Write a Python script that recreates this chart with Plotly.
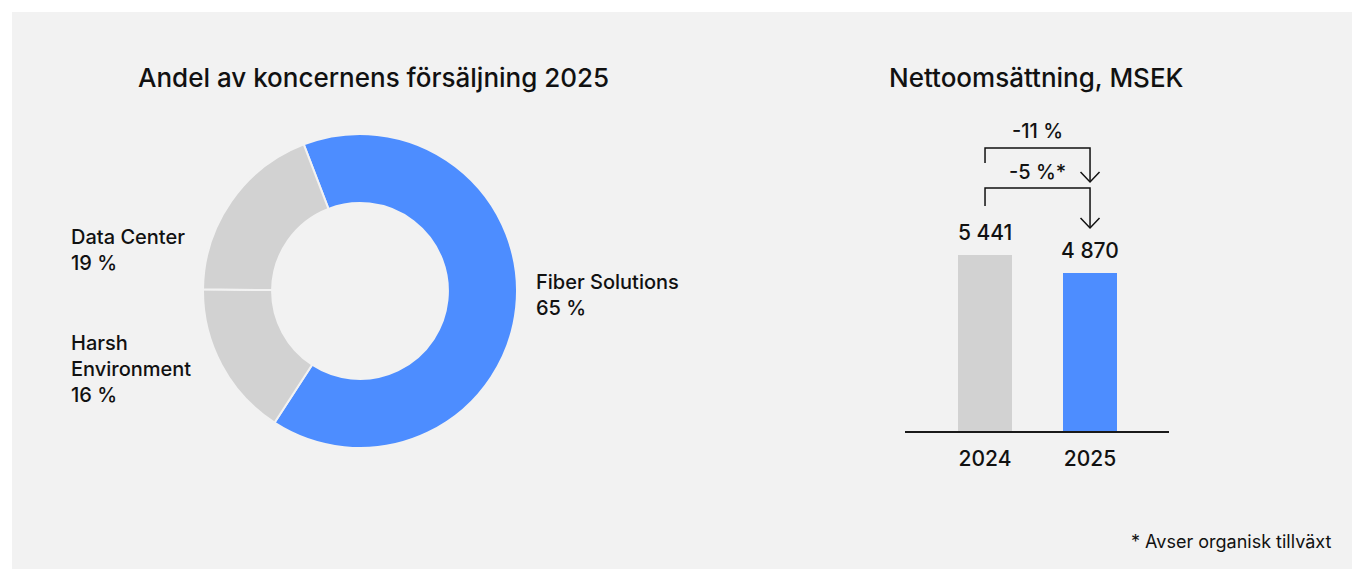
import plotly.graph_objects as go

# ---- data ----
segments = ["Fiber Solutions", "Harsh Environment", "Data Center"]
segment_share = [65, 16, 19]
segment_colors = ["#4d8dff", "#d2d2d2", "#d2d2d2"]

years = ["2024", "2025"]
net_sales = [5441, 4870]
bar_colors = ["#d2d2d2", "#4d8dff"]

growth_labels = ["-11 %", "-5 %*"]
footnote = "* Avser organisk tillväxt"

# the page puts the figure 8px in from the top-left corner
OFF = 8
W, H = 1360 - OFF, 569 - OFF
FONT = "Inter"
INK = "#111111"
BG = "#f2f2f2"


def fx(p):
    return (p - OFF) / W


def fy(p):
    return 1 - (p - OFF) / H


fig = go.Figure()

# donut
fig.add_trace(go.Pie(
    labels=segments,
    values=segment_share,
    marker=dict(colors=segment_colors, line=dict(color=BG, width=2)),
    hole=0.56,
    sort=False,
    direction="clockwise",
    rotation=-21,
    textinfo="none",
    hoverinfo="label+percent",
    domain=dict(x=[fx(203), fx(517)], y=[fy(448), fy(134)]),
    showlegend=False,
))

# bars
bar_w_px = 54
x_dom = [fx(905), fx(1169)]
x_range = [-0.762, 1.752]
units_per_px = (x_range[1] - x_range[0]) / (1169 - 905)
px_per_msek = 176 / 5441
y_range = [0, (431 - OFF) / px_per_msek]

fig.add_trace(go.Bar(
    x=list(range(len(years))),
    y=net_sales,
    width=bar_w_px * units_per_px,
    marker=dict(color=bar_colors, line=dict(width=0)),
    hoverinfo="y",
    showlegend=False,
))

fig.update_xaxes(
    domain=x_dom, range=x_range,
    tickvals=list(range(len(years))), ticktext=years,
    showline=True, linecolor="#1a1a1a", linewidth=2,
    showgrid=False, zeroline=False, ticks="",
    tickfont=dict(family=FONT, size=21, color=INK, weight=500),
    ticklabelstandoff=8,
    fixedrange=True,
)
fig.update_yaxes(
    domain=[fy(431), 1], range=y_range,
    visible=False, showgrid=False, zeroline=False, fixedrange=True,
)

annotations = []
shapes = []

# panel background
shapes.append(dict(type="rect", xref="paper", yref="paper",
                   x0=fx(12), x1=1, y0=0, y1=fy(12),
                   fillcolor=BG, line=dict(width=0), layer="below"))

# titles
for title, cx in [("Andel av koncernens försäljning 2025", 373),
                  ("Nettoomsättning, MSEK", 1036)]:
    annotations.append(dict(text=title, x=fx(cx), y=fy(77), xref="paper", yref="paper",
                            xanchor="center", yanchor="middle", showarrow=False,
                            font=dict(family=FONT, size=26, color=INK, weight=500)))

# donut labels
label_pos = {"Fiber Solutions": (534, 268),
             "Harsh Environment": (69, 329),
             "Data Center": (69, 223)}
for name, share in zip(segments, segment_share):
    lx, ly = label_pos[name]
    annotations.append(dict(text=f"{name.replace('Harsh ', 'Harsh<br>')}<br>{share} %",
                            x=fx(lx), y=fy(ly), xref="paper", yref="paper",
                            xanchor="left", yanchor="top", align="left",
                            showarrow=False,
                            font=dict(family=FONT, size=20, color=INK, weight=500)))

# value labels above bars
for i, v in enumerate(net_sales):
    annotations.append(dict(text=f"{v:,}".replace(",", " "),
                            x=i, y=v, xref="x", yref="y",
                            xanchor="center", yanchor="bottom", yshift=8,
                            showarrow=False,
                            font=dict(family=FONT, size=21, color=INK, weight=500)))

# growth brackets: (bar y, left leg end, arrow tip) in pixels, label y
brackets = [(131, 148, 163, 182), (172, 188, 206, 228)]
half_v = 9.5 * units_per_px
for text, (ty, top, left_end, tip) in zip(growth_labels, brackets):
    shapes.append(dict(type="path", xref="x", yref="paper",
                       path=f"M 0,{fy(left_end)} L 0,{fy(top)} L 1,{fy(top)} L 1,{fy(tip)}",
                       line=dict(color=INK, width=1.5)))
    shapes.append(dict(type="path", xref="x", yref="paper",
                       path=f"M {1 - half_v},{fy(tip - 10)} L 1,{fy(tip)} L {1 + half_v},{fy(tip - 10)}",
                       line=dict(color=INK, width=1.5)))
    annotations.append(dict(text=text, x=0.5, y=fy(ty), xref="x", yref="paper",
                            xanchor="center", yanchor="middle", showarrow=False,
                            font=dict(family=FONT, size=20, color=INK, weight=500)))

# footnote
annotations.append(dict(text=footnote, x=fx(1333), y=fy(541),
                        xref="paper", yref="paper", xanchor="right", yanchor="middle",
                        showarrow=False,
                        font=dict(family=FONT, size=18, color=INK)))

fig.update_layout(
    width=W, height=H,
    margin=dict(l=0, r=0, t=0, b=0),
    paper_bgcolor="white",
    plot_bgcolor="rgba(0,0,0,0)",
    annotations=annotations,
    shapes=shapes,
    bargap=0,
)

fig.write_html("out.html")
